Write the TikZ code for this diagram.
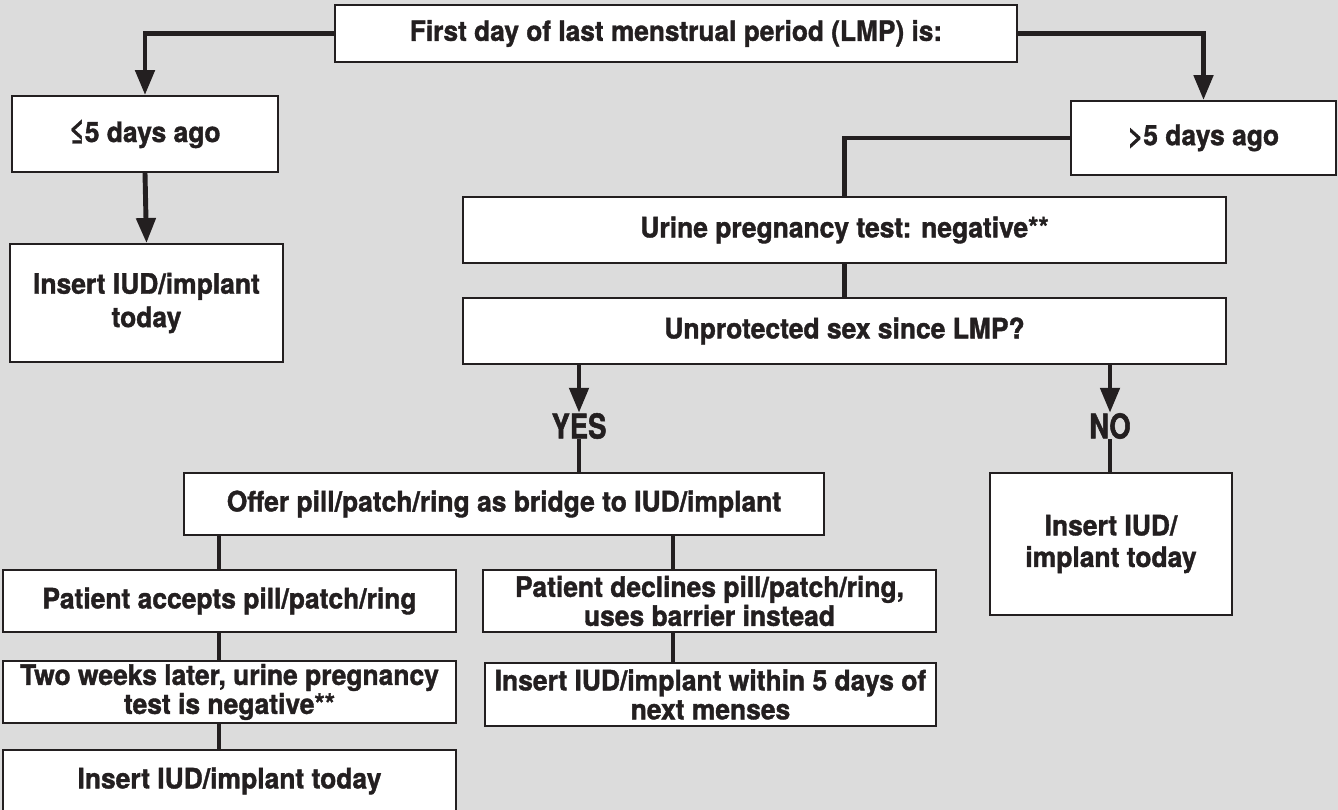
\documentclass[tikz,border=0pt]{standalone}
\usepackage{fontspec}
\setmainfont{TeX Gyre Heros}[FakeStretch=0.94,BoldFeatures={FakeBold=1.3}]
\newfontfamily\answerfont{TeX Gyre Heros}[FakeStretch=0.8,BoldFeatures={FakeBold=1.5}]
\usetikzlibrary{arrows.meta}
\definecolor{inkdark}{HTML}{231F20}
\definecolor{pagegray}{HTML}{DCDCDC}
\begin{document}
\begin{tikzpicture}
  [x=0.02cm,y=-0.02cm,every node/.style={font=\bfseries\fontsize{16}{16.5}\selectfont,text=inkdark,align=center}]
  \tikzstyle{box} = [draw=inkdark,line width=1.1pt,fill=white,shape=rectangle,inner sep=0pt]
  \tikzstyle{link} = [draw=inkdark,line width=2.8pt]
  \tikzstyle{arrow} = [link,-{Triangle[length=0.5cm,width=0.38cm]}]
  \tikzstyle{answer} = [font=\answerfont\bfseries\fontsize{19.5}{19.5}\selectfont,inner sep=0pt]
  \useasboundingbox[fill=pagegray] (0,0) rectangle (1338,810);
  \node[box,minimum width=13.64cm,minimum height=1.14cm,font=\bfseries\fontsize{15.9}{16}\selectfont] (lmp) at (676,33.5) {First day of last menstrual period (LMP) is:};
  \node[box,minimum width=5.32cm,minimum height=1.52cm] (le5) at (145,134) {≤5 days ago};
  \node[box,minimum width=5.46cm,minimum height=2.36cm,font=\bfseries\fontsize{16}{19}\selectfont] (ins1) at (146.5,303) {Insert IUD/implant\\today};
  \node[box,minimum width=5.30cm,minimum height=1.48cm] (gt5) at (1203.5,138) {>5 days ago};
  \node[box,minimum width=15.26cm,minimum height=1.32cm] (urine) at (844.5,230) {Urine pregnancy test: negative**};
  \node[box,minimum width=15.26cm,minimum height=1.32cm] (unprot) at (844.5,331) {Unprotected sex since LMP?};
  \node[answer] (yes) at (579,426) {YES};
  \node[answer] (no) at (1110,426) {NO};
  \node[box,minimum width=12.8cm,minimum height=1.24cm] (offer) at (504,504) {Offer pill/patch/ring as bridge to IUD/implant};
  \node[box,minimum width=4.84cm,minimum height=2.84cm,font=\bfseries\fontsize{16}{18}\selectfont] (ins2) at (1111,544) {Insert IUD/\\implant today};
  \node[box,minimum width=9.06cm,minimum height=1.24cm] (acc) at (229.5,601) {Patient accepts pill/patch/ring};
  \node[box,minimum width=9.06cm,minimum height=1.24cm] (two) at (229.5,692) {Two weeks later, urine pregnancy\\test is negative**};
  \node[box,minimum width=9.06cm,minimum height=1.24cm] (ins3) at (229.5,781) {Insert IUD/implant today};
  \node[box,minimum width=9.06cm,minimum height=1.24cm] (dec) at (709.5,601) {Patient declines pill/patch/ring,\\uses barrier instead};
  \node[box,minimum width=9.02cm,minimum height=1.26cm] (within) at (710.5,694.5) {Insert IUD/implant within 5 days of\\next menses};
  \coordinate (lcol) at (219,0);
  \coordinate (rcol) at (673,0);

  \draw[arrow] (lmp.west) -| (le5.north);
  \draw[arrow] (lmp.east) -| (gt5.north);
  \draw[arrow] (le5.south) -- (ins1.north);
  \draw[link] (gt5.west) -| (urine.north);
  \draw[link] (urine.south) -- (unprot.north);
\foreach \label in {yes,no}
   \draw[arrow] (\label |- unprot.south) -- (\label.north);
  \draw[link] (yes.south) -- (yes |- offer.north);
  \draw[link] (no.south) -- (no |- ins2.north);
\foreach \source /\dest in {offer/acc,acc/two,two/ins3}
   \draw[link] (lcol |- \source.south) -- (lcol |- \dest.north);
\foreach \source /\dest in {offer/dec,dec/within}
   \draw[link] (rcol |- \source.south) -- (rcol |- \dest.north);
  \end{tikzpicture}
\end{document}
